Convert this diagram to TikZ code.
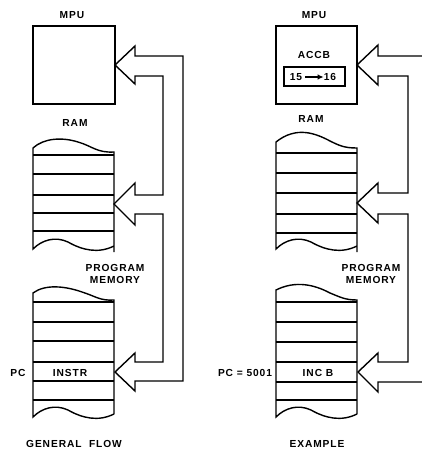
\documentclass[tikz,border=0pt]{standalone}
\usepackage{fontspec}
\setmainfont{Liberation Sans}[LetterSpace=9]
\usetikzlibrary{arrows.meta}
\begin{document}
\begin{tikzpicture}[x=1pt,y=-1pt,line join=miter,
  lbl/.style={font=\fontsize{10.2}{12}\selectfont\bfseries,inner sep=0pt,align=center},
  ln/.style={line width=1.4pt},
  thin/.style={line width=1.2pt}]
\useasboundingbox (0,0) rectangle (422,449);

% ===== LEFT: GENERAL FLOW =====
\node[lbl] (mpuL) at (72,15) {MPU};
\draw[ln] (33,26) rectangle (115,104);
\node[lbl] (ramL) at (75,123) {RAM};
% RAM stack
\draw[ln] (114,252) -- (114,152) .. controls (97,153) and (92,146) .. (78,142) .. controls (62,137) and (44,138) .. (33,148) -- (33,249)
  .. controls (42,240) and (55,236) .. (68,242) .. controls (82,250) and (98,254) .. (114,246);
\foreach \yy in {155,174,195,213,231} \draw[thin] (33,\yy) -- (114,\yy);
\node[lbl] (pmL) at (115,274) {PROGRAM\\MEMORY};
% program memory stack
\draw[ln] (114,414) -- (114,300) .. controls (100,301) and (95,296) .. (82,292) .. controls (65,286) and (45,284) .. (33,293) -- (33,417)
  .. controls (42,408) and (55,404) .. (68,410) .. controls (82,418) and (98,422) .. (114,414);
\foreach \yy in {302,322,341,362,381,400} \draw[thin] (33,\yy) -- (114,\yy);
\node[lbl] (pcL) at (18,373) {PC};
\node[lbl] (instr) at (70,373) {INSTR};
\node[lbl] (gf) at (74,444) {GENERAL\ \ FLOW};
% double-line bus with hollow arrows
\draw[ln] (135,56) -- (135,46) -- (115,65) -- (135,84) -- (135,76) -- (163,76) -- (163,195) -- (135,195)
  -- (135,183) -- (114,204) -- (135,225) -- (135,214) -- (163,214) -- (163,362) -- (135,362)
  -- (135,353) -- (115,372) -- (135,391) -- (135,381) -- (183,381) -- (183,56) -- cycle;

% ===== RIGHT: EXAMPLE =====
\node[lbl] (mpuR) at (314,15) {MPU};
\draw[ln] (276,26) rectangle (357,104);
\node[lbl] (accb) at (314,55) {ACCB};
\draw[ln] (284,67) rectangle (345,86);
\node[lbl] (v15) at (296,77) {15};
\node[lbl] (v16) at (330,77) {16};
\draw[line width=1.3pt,-{Latex[length=6pt,width=5.5pt]}] (v15.east) ++(3,0) -- (v16.west);
\node[lbl] (ramR) at (311,119) {RAM};
\draw[ln] (357,252) -- (357,148) .. controls (345,148) and (340,146) .. (330,141) .. controls (315,133) and (296,126) .. (276,142) -- (276,249)
  .. controls (285,240) and (298,236) .. (311,242) .. controls (325,250) and (341,254) .. (357,246);
\foreach \yy in {153,173,193,214,233} \draw[thin] (276,\yy) -- (357,\yy);
\node[lbl] (pmR) at (371,274) {PROGRAM\\MEMORY};
\draw[ln] (357,414) -- (357,300) .. controls (345,300) and (340,297) .. (330,293) .. controls (315,285) and (296,280) .. (276,290) -- (276,417)
  .. controls (285,408) and (298,404) .. (311,410) .. controls (325,418) and (341,422) .. (357,414);
\foreach \yy in {302,322,342,362,382,400} \draw[thin] (276,\yy) -- (357,\yy);
\node[lbl] (pcR) at (245,373) {PC = 5001};
\node[lbl] (incb) at (318,373) {INC B};
\node[lbl] (ex) at (317,444) {EXAMPLE};
\draw[ln] (422,56) -- (378,56) -- (378,45) -- (357,65) -- (378,85) -- (378,76) -- (408,76) -- (408,193) -- (378,193)
  -- (378,183) -- (357,203) -- (378,223) -- (378,214) -- (408,214) -- (408,362) -- (378,362)
  -- (378,353) -- (358,372) -- (378,392) -- (378,382) -- (422,382);
\end{tikzpicture}
\end{document}
